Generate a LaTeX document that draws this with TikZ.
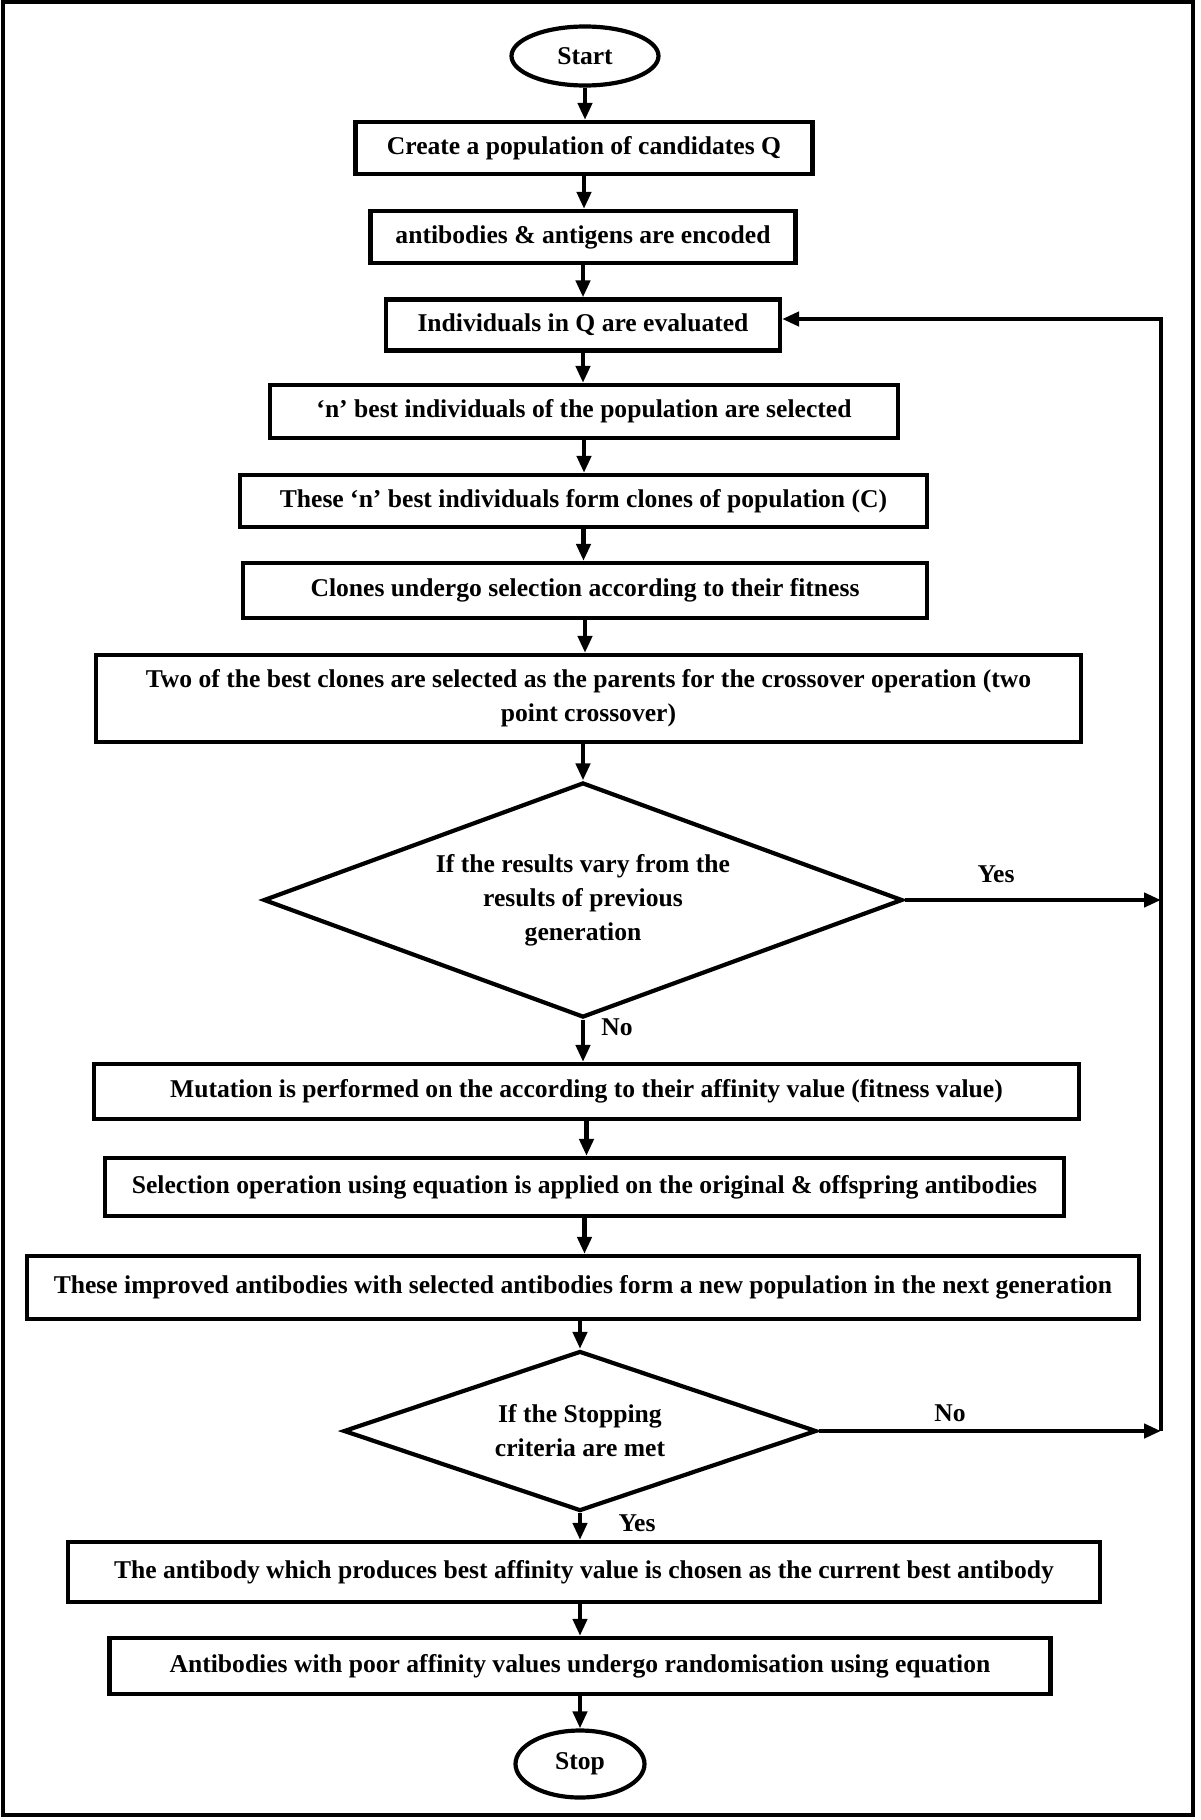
\documentclass[tikz,border=0pt]{standalone}
\usepackage{fontspec}
\setmainfont{Liberation Serif}
\usetikzlibrary{shapes.geometric,arrows.meta}
\begin{document}
\begin{tikzpicture}[x=0.5pt,y=-0.5pt,
  font=\bfseries\fontsize{12.8pt}{17pt}\selectfont,
  box/.style={draw,line width=2.1pt,rectangle,inner sep=0pt,align=center},
  term/.style={draw,line width=2.1pt,ellipse,inner sep=0pt},
  dec/.style={draw,line width=2.1pt,diamond,inner sep=0pt,align=center},
  arr/.style={line width=2.3pt,-{Triangle[length=8.5pt,width=7pt]}},
  lbl/.style={inner sep=0pt}]
\useasboundingbox (0,0) rectangle (1200,1820);
\draw[line width=2.2pt] (3,2) rectangle (1193,1815);

\node[term,minimum width=73.5pt,minimum height=29.5pt] (start) at (585,56) {Start};
\node[box,minimum width=228.5pt,minimum height=26pt] (b1) at (584,148) {Create a population of candidates Q};
\node[box,minimum width=212.5pt,minimum height=26pt] (b2) at (583,237) {antibodies \& antigens are encoded};
\node[box,minimum width=197pt,minimum height=25.5pt] (b3) at (583,325) {Individuals in Q are evaluated};
\node[box,minimum width=314pt,minimum height=26.5pt] (b4) at (584,411.5) {‘n’ best individuals of the population are selected};
\node[box,minimum width=343.5pt,minimum height=26pt] (b5) at (583.5,501) {These ‘n’ best individuals form clones of population (C)};
\node[box,minimum width=342pt,minimum height=27.5pt] (b6) at (585,590.5) {Clones undergo selection according to their fitness};
\node[box,minimum width=492.5pt,minimum height=43.5pt] (b7) at (588.5,698.5) {Two of the best clones are selected as the parents for the crossover operation (two\\point crossover)};
\node[dec,aspect=2.72,minimum width=319.5pt,minimum height=117.5pt] (d1) at (583,900) {If the results vary from the\\results of previous\\generation};
\node[box,minimum width=492.5pt,minimum height=27.5pt] (b8) at (586.5,1091.5) {Mutation is performed on the according to their affinity value (fitness value)};
\node[box,minimum width=479.5pt,minimum height=29pt] (b9) at (584.5,1187) {Selection operation using equation is applied on the original \& offspring antibodies};
\node[box,minimum width=556pt,minimum height=31.5pt] (b10) at (583,1287.5) {These improved antibodies with selected antibodies form a new population in the next generation};
\node[dec,aspect=3,minimum width=236.5pt,minimum height=80pt] (d2) at (580,1431) {If the Stopping\\criteria are met};
\node[box,minimum width=516pt,minimum height=30pt] (b11) at (584,1572) {The antibody which produces best affinity value is chosen as the current best antibody};
\node[box,minimum width=470.5pt,minimum height=28pt] (b12) at (580,1666) {Antibodies with poor affinity values undergo randomisation using equation};
\node[term,minimum width=64.5pt,minimum height=33.5pt] (stop) at (580,1764) {Stop};

\coordinate (fb) at (1161,319);

\draw[arr] (start.south) -- (start.south |- b1.north);
\draw[arr] (b1.south) -- (b1.south |- b2.north);
\draw[arr] (b2.south) -- (b2.south |- b3.north);
\draw[arr] (b3.south) -- (b3.south |- b4.north);
\draw[arr] (b4.south) -- (b4.south |- b5.north);
\draw[arr] (b5.south) -- (b5.south |- b6.north);
\draw[arr] (b6.south) -- (b6.south |- b7.north);
\draw[arr] (b7.south -| d1.north) -- (d1.north);
\draw[arr] (d1.south) -- (d1.south |- b8.north);
\draw[arr] (b8.south) -- (b8.south |- b9.north);
\draw[arr] (b9.south) -- (b9.south |- b10.north);
\draw[arr] (b10.south -| d2.north) -- (d2.north);
\draw[arr] (d2.south) -- (d2.south |- b11.north);
\draw[arr] (b11.south -| b12.north) -- (b12.north);
\draw[arr] (b12.south) -- (b12.south |- stop.north);

\draw[arr] (d1.east) -- (d1.east -| fb);
\draw[arr] (d2.east) -- (d2.east -| fb);
\draw[arr] (d2.east -| fb) -- (fb) -- (fb -| b3.east);

\node[lbl] (yes1) at (996,874) {Yes};
\node[lbl] (no1) at (617,1027) {No};
\node[lbl] (no2) at (950,1413) {No};
\node[lbl] (yes2) at (637,1523) {Yes};
\end{tikzpicture}
\end{document}
